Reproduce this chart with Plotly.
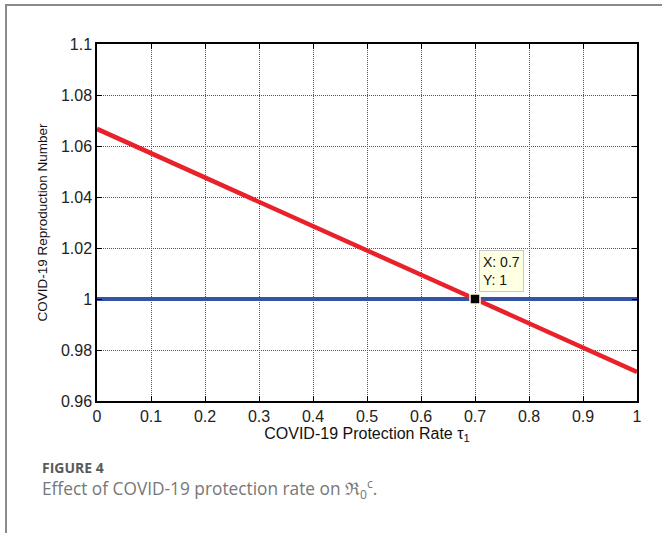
import plotly.graph_objects as go

tau = [0.0, 0.1, 0.2, 0.3, 0.4, 0.5, 0.6, 0.7, 0.8, 0.9, 1.0]
r0_covid = [1.0667, 1.0571, 1.0476, 1.0381, 1.0286, 1.0190, 1.0095, 1.0000, 0.9905, 0.9810, 0.9714]
threshold_x = [0.0, 1.0]
threshold_y = [1.0, 1.0]
tip_x = [0.7]
tip_y = [1.0]
x_ticks = [0, 0.1, 0.2, 0.3, 0.4, 0.5, 0.6, 0.7, 0.8, 0.9, 1]
x_ticklabels = ["0", "0.1", "0.2", "0.3", "0.4", "0.5", "0.6", "0.7", "0.8", "0.9", "1"]
y_ticks = [0.96, 0.98, 1.0, 1.02, 1.04, 1.06, 1.08, 1.1]
y_ticklabels = ["0.96", "0.98", "1", "1.02", "1.04", "1.06", "1.08", "1.1"]

W, H = 662, 533
L, R, T, B = 97, 637, 44, 401

def px(x):
    return (x - L) / (R - L)

def py(y):
    return (B - y) / (B - T)

SANS = "Liberation Sans"

fig = go.Figure()
fig.add_trace(go.Scatter(x=threshold_x, y=threshold_y, mode="lines",
                         line=dict(color="#3553A4", width=4), showlegend=False, hoverinfo="skip"))
fig.add_trace(go.Scatter(x=tau, y=r0_covid, mode="lines",
                         line=dict(color="#E8212B", width=4.5), showlegend=False, hoverinfo="skip"))
fig.add_trace(go.Scatter(x=tip_x, y=tip_y, mode="markers",
                         marker=dict(symbol="square", size=10, color="black",
                                     line=dict(color="#FFFFE1", width=1.5)),
                         showlegend=False, hoverinfo="skip"))

fig.add_annotation(x=tip_x[0], y=tip_y[0], xref="x", yref="y",
                   text="X: 0.7<br>Y: 1", showarrow=False, align="left",
                   xanchor="left", yanchor="bottom", xshift=4, yshift=7,
                   bgcolor="#FFFFE1", bordercolor="#C8C8C8", borderwidth=1, borderpad=3,
                   font=dict(family=SANS, size=14, color="#111"))

fig.add_annotation(xref="paper", yref="paper", x=px(40), y=py(467), xanchor="left", yanchor="middle",
                   text="<b>FIGURE 4</b>", showarrow=False,
                   font=dict(family="Open Sans", size=14, color="#5a5a5a"))
fig.add_annotation(xref="paper", yref="paper", x=px(40), y=py(489), xanchor="left", yanchor="middle",
                   text="Effect of COVID-19 protection rate on \u211C<sub>0</sub><sup>c</sup>.", showarrow=False,
                   font=dict(family="Open Sans", size=17.3, color="#777"))

# frame lines
fig.add_shape(type="line", xref="paper", yref="paper", x0=px(5), x1=px(662), y0=py(5), y1=py(5),
              line=dict(color="#8A8A8A", width=2))
fig.add_shape(type="line", xref="paper", yref="paper", x0=px(6), x1=px(6), y0=py(5), y1=py(533),
              line=dict(color="#8A8A8A", width=2))

tick_font = dict(family=SANS, size=16, color="#222")

fig.update_layout(
    width=W, height=H, margin=dict(l=L, r=W - R, t=T, b=H - B),
    paper_bgcolor="white", plot_bgcolor="white", showlegend=False,
    font=dict(family=SANS, size=15, color="#222"),
    xaxis=dict(range=[0, 1], tickmode="array", tickvals=x_ticks, ticktext=x_ticklabels,
               tickfont=tick_font,
               showline=True, linecolor="black", linewidth=1.5, mirror="ticks",
               ticks="inside", ticklen=5, tickcolor="black",
               showgrid=True, gridcolor="#555", griddash="1px,1px", gridwidth=1, zeroline=False,
               title=dict(text="COVID-19 Protection Rate \u03c4<sub>1</sub>", standoff=1,
                          font=dict(family=SANS, size=16, color="#111"))),
    yaxis=dict(range=[0.96, 1.1], tickmode="array", tickvals=y_ticks, ticktext=y_ticklabels,
               tickfont=tick_font,
               showline=True, linecolor="black", linewidth=1.5, mirror="ticks",
               ticks="inside", ticklen=5, tickcolor="black",
               showgrid=True, gridcolor="#555", griddash="1px,1px", gridwidth=1, zeroline=False,
               title=dict(text="COVID-19 Reproduction Number", standoff=10,
                          font=dict(family=SANS, size=13.5, color="#111"))),
)

fig.write_html("out.html")
